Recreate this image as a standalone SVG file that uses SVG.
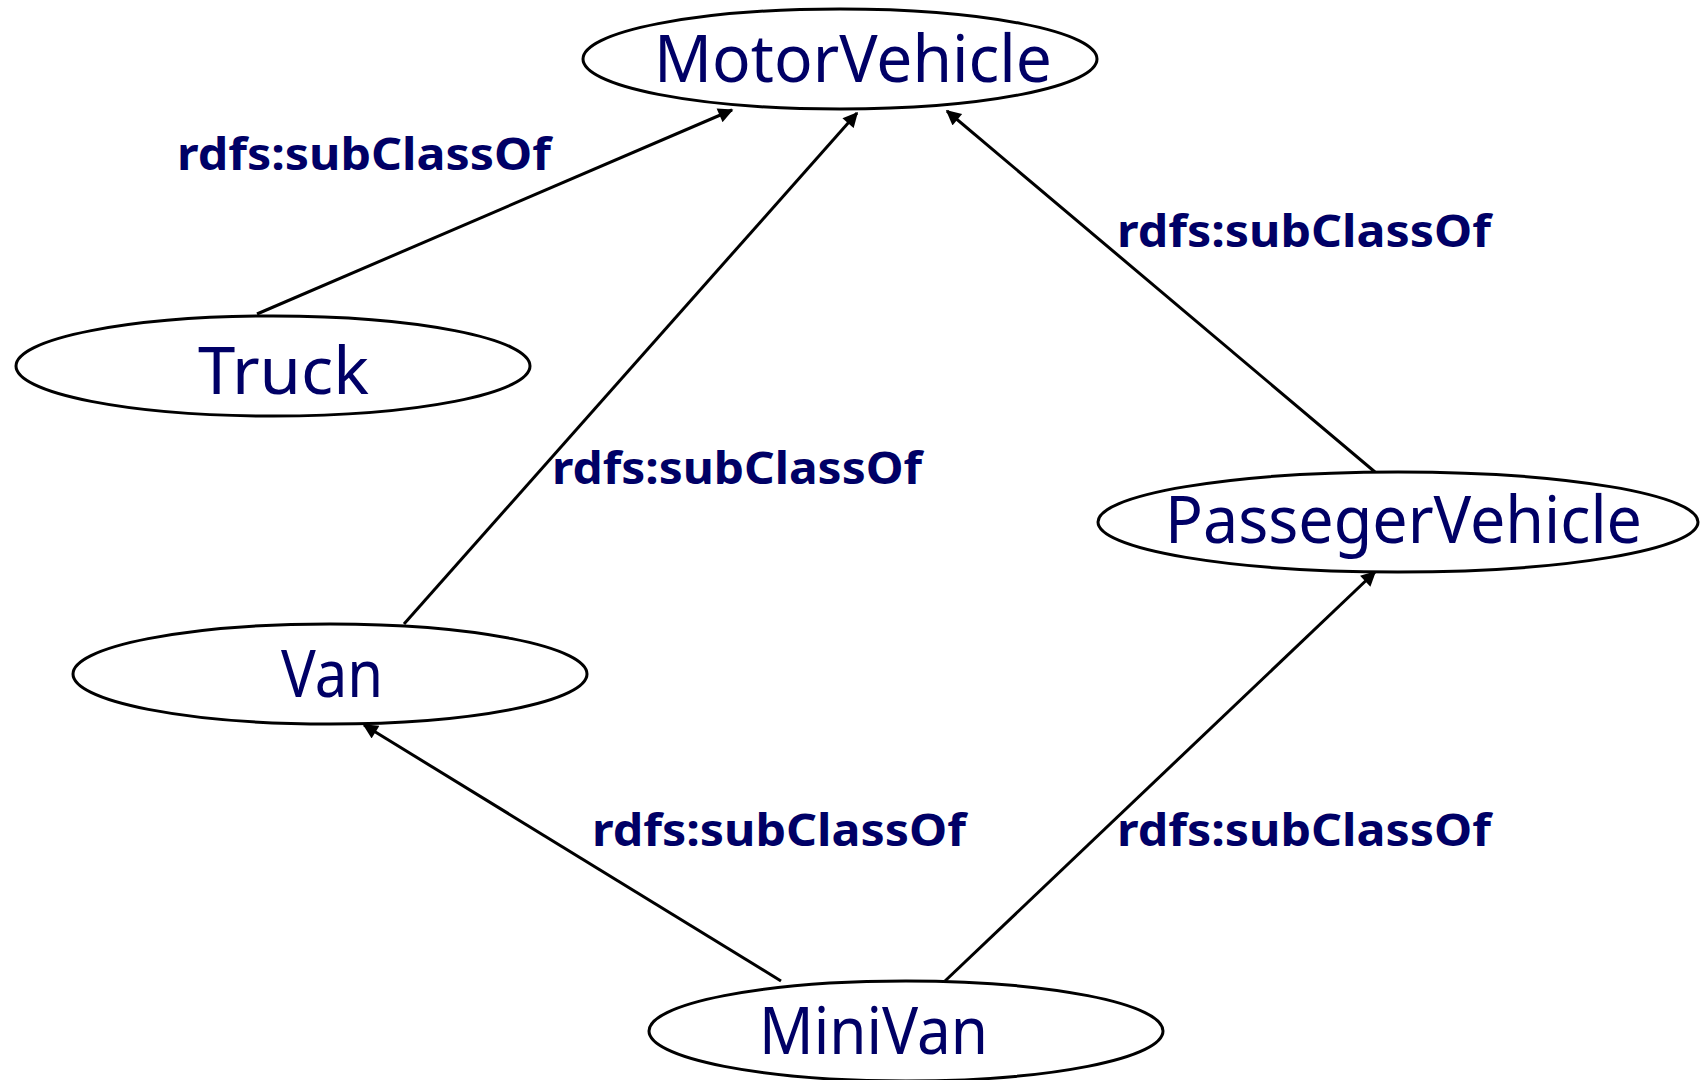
<svg xmlns="http://www.w3.org/2000/svg" width="1700" height="1080" viewBox="0 0 1700 1080">
<defs>
<style>
.node ellipse{fill:#fff;stroke:#000;stroke-width:3}
.node text{font-family:"Comic Sans MS","Noto Sans",sans-serif;font-size:66px;fill:#000066}
.lbl{font-family:"Comic Sans MS","Noto Sans",sans-serif;font-size:45px;font-weight:bold;fill:#000066}
.edge{stroke:#000;stroke-width:3;fill:none;marker-end:url(#arr)}
</style>
<marker id="arr" viewBox="0 0 10 10" refX="9" refY="5" markerWidth="5.5" markerHeight="5" markerUnits="strokeWidth" orient="auto">
<path d="M0,0 L10,5 L0,10 z" fill="#000"/>
</marker>
</defs>
<rect width="1700" height="1080" fill="#fff"/>
<g id="connectors">
<line class="edge" x1="257" y1="314" x2="732" y2="110"/>
<line class="edge" x1="404" y1="624" x2="857" y2="113"/>
<line class="edge" x1="1375" y1="472" x2="947" y2="111"/>
<line class="edge" x1="781" y1="981" x2="364" y2="725"/>
<line class="edge" x1="945" y1="981" x2="1375" y2="572"/>
<text class="lbl" x="177" y="170" textLength="374" lengthAdjust="spacingAndGlyphs">rdfs:subClassOf</text>
<text class="lbl" x="1117" y="247" textLength="374" lengthAdjust="spacingAndGlyphs">rdfs:subClassOf</text>
<text class="lbl" x="552" y="484" textLength="370" lengthAdjust="spacingAndGlyphs">rdfs:subClassOf</text>
<text class="lbl" x="592" y="846" textLength="374" lengthAdjust="spacingAndGlyphs">rdfs:subClassOf</text>
<text class="lbl" x="1117" y="846" textLength="374" lengthAdjust="spacingAndGlyphs">rdfs:subClassOf</text>
</g>
<g id="MotorVehicle" class="node">
<ellipse cx="840" cy="59" rx="257" ry="50"/>
<text x="654" y="82" textLength="398" lengthAdjust="spacingAndGlyphs">MotorVehicle</text>
</g>
<g id="Truck" class="node">
<ellipse cx="273" cy="366" rx="257" ry="50"/>
<text x="198" y="394" textLength="171" lengthAdjust="spacingAndGlyphs">Truck</text>
</g>
<g id="PassegerVehicle" class="node">
<ellipse cx="1398" cy="522" rx="300" ry="50"/>
<text x="1165" y="543" textLength="477" lengthAdjust="spacingAndGlyphs">PassegerVehicle</text>
</g>
<g id="Van" class="node">
<ellipse cx="330" cy="674" rx="257" ry="50"/>
<text x="281" y="697" textLength="102" lengthAdjust="spacingAndGlyphs">Van</text>
</g>
<g id="MiniVan" class="node">
<ellipse cx="906" cy="1031" rx="257" ry="50"/>
<text x="759" y="1054" textLength="229" lengthAdjust="spacingAndGlyphs">MiniVan</text>
</g>
</svg>
